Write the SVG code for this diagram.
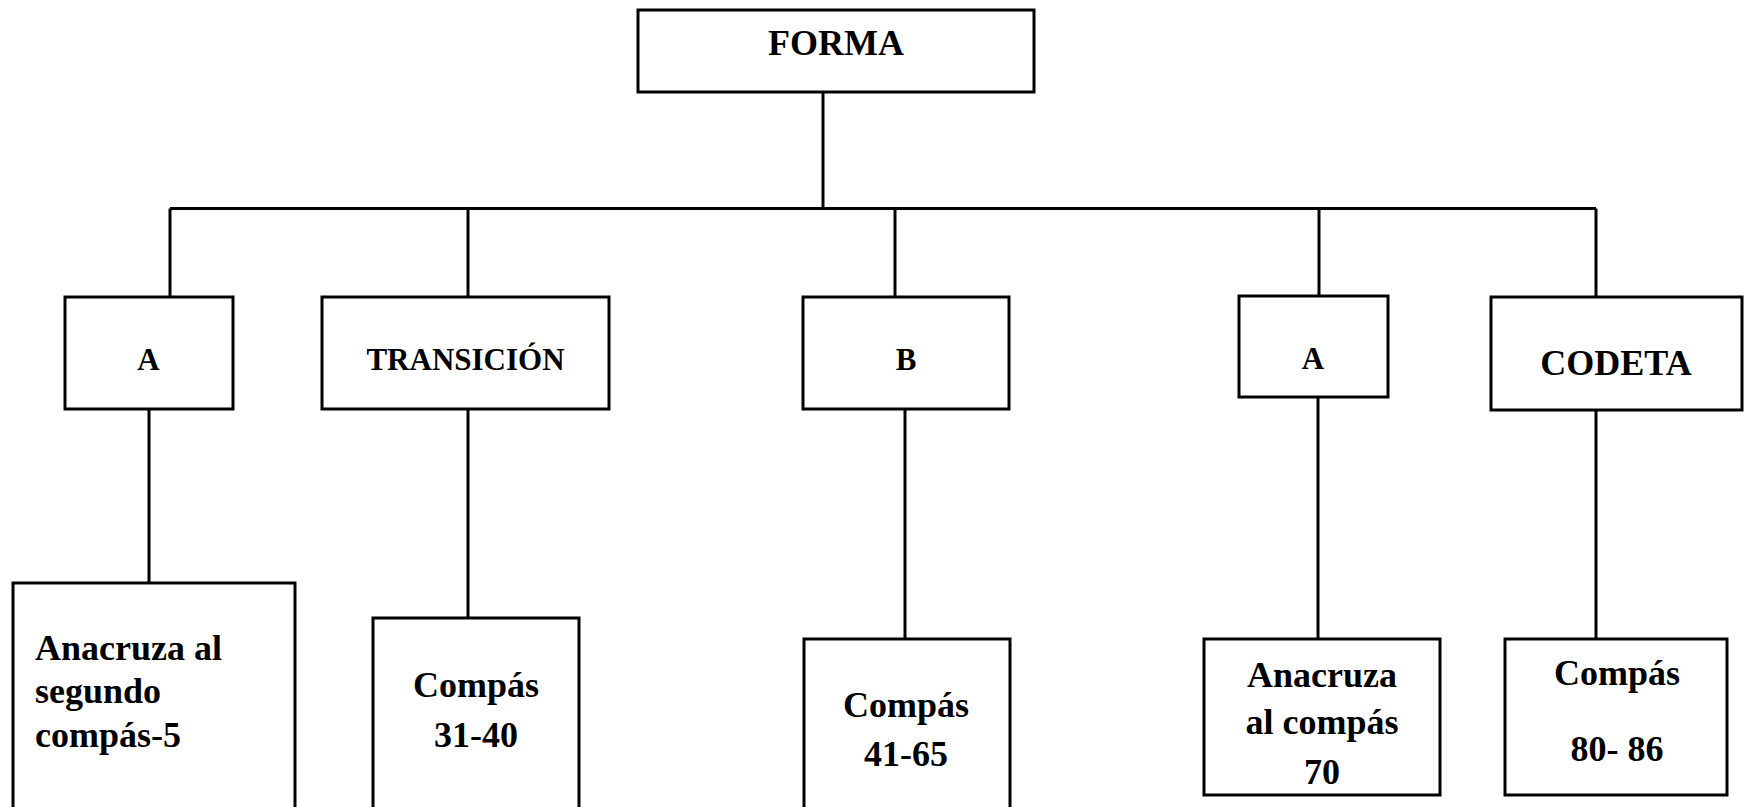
<svg xmlns="http://www.w3.org/2000/svg" width="1750" height="807" viewBox="0 0 1750 807">
  <style>
    .box { fill: #ffffff; stroke: #000000; stroke-width: 3; }
    .wire { fill: none; stroke: #000000; stroke-width: 3; }
    .lbl { font-family: "Liberation Serif", "Times New Roman", serif; font-weight: bold; fill: #000000; text-anchor: middle; }
    .sm { font-size: 31px; }
    .lg { font-size: 36px; }
    .left { text-anchor: start; }
  </style>
  <rect x="0" y="0" width="1750" height="807" fill="#ffffff"/>

  <!-- connectors -->
  <g id="connectors" class="wire">
    <line x1="823" y1="92" x2="823" y2="208.5"/>
    <line x1="170" y1="208.5" x2="1596" y2="208.5"/>
    <line x1="170" y1="208.5" x2="170" y2="297"/>
    <line x1="468" y1="208.5" x2="468" y2="297"/>
    <line x1="895" y1="208.5" x2="895" y2="297"/>
    <line x1="1319" y1="208.5" x2="1319" y2="296"/>
    <line x1="1596" y1="208.5" x2="1596" y2="297"/>
    <line x1="149" y1="409" x2="149" y2="583"/>
    <line x1="468" y1="409" x2="468" y2="618"/>
    <line x1="905" y1="409" x2="905" y2="639"/>
    <line x1="1318" y1="397" x2="1318" y2="639"/>
    <line x1="1596" y1="410" x2="1596" y2="639"/>
  </g>

  <!-- root -->
  <g id="forma">
    <rect class="box" x="638" y="10" width="396" height="82"/>
    <text class="lbl lg" x="836" y="55">FORMA</text>
  </g>

  <!-- sections -->
  <g id="sec-a1">
    <rect class="box" x="65" y="297" width="168" height="112"/>
    <text class="lbl sm" x="148.5" y="370">A</text>
  </g>
  <g id="sec-transicion">
    <rect class="box" x="322" y="297" width="287" height="112"/>
    <text class="lbl sm" x="465.5" y="370">TRANSICIÓN</text>
  </g>
  <g id="sec-b">
    <rect class="box" x="803" y="297" width="206" height="112"/>
    <text class="lbl sm" x="906" y="370">B</text>
  </g>
  <g id="sec-a2">
    <rect class="box" x="1239" y="296" width="149" height="101"/>
    <text class="lbl sm" x="1313" y="369">A</text>
  </g>
  <g id="sec-codeta">
    <rect class="box" x="1491" y="297" width="251" height="113"/>
    <text class="lbl lg" x="1616" y="375">CODETA</text>
  </g>

  <!-- measure ranges -->
  <g id="det-a1">
    <rect class="box" x="13" y="583" width="282" height="240"/>
    <text class="lbl lg left" x="35" y="660">Anacruza al</text>
    <text class="lbl lg left" x="35" y="703">segundo</text>
    <text class="lbl lg left" x="35" y="747">compás-5</text>
  </g>
  <g id="det-transicion">
    <rect class="box" x="373" y="618" width="206" height="210"/>
    <text class="lbl lg" x="476" y="697">Compás</text>
    <text class="lbl lg" x="476" y="747">31-40</text>
  </g>
  <g id="det-b">
    <rect class="box" x="804" y="639" width="206" height="190"/>
    <text class="lbl lg" x="906" y="717">Compás</text>
    <text class="lbl lg" x="906" y="766">41-65</text>
  </g>
  <g id="det-a2">
    <rect class="box" x="1204" y="639" width="236" height="156"/>
    <text class="lbl lg" x="1322" y="687">Anacruza</text>
    <text class="lbl lg" x="1322" y="734">al compás</text>
    <text class="lbl lg" x="1322" y="784">70</text>
  </g>
  <g id="det-codeta">
    <rect class="box" x="1505" y="639" width="222" height="156"/>
    <text class="lbl lg" x="1617" y="685">Compás</text>
    <text class="lbl lg" x="1617" y="761">80- 86</text>
  </g>
</svg>
